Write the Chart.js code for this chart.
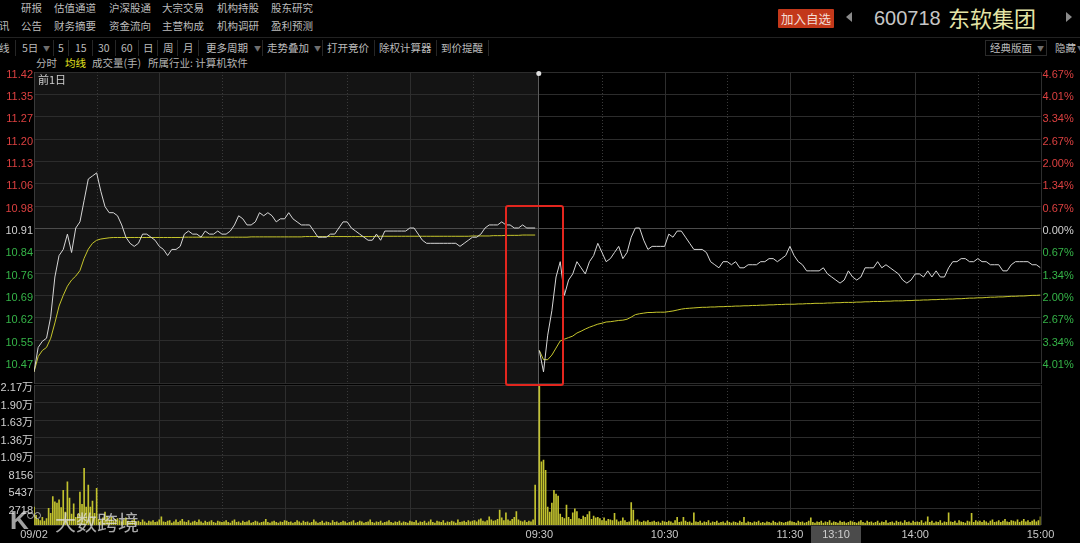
<!DOCTYPE html>
<html>
<head>
<meta charset="utf-8">
<script src="https://cdn.jsdelivr.net/npm/chart.js@4.4.1/dist/chart.umd.min.js"></script>
<style>
  body { margin: 0; background: #000; width: 1080px; height: 543px; overflow: hidden; position: relative;
         font-family: 'Noto Sans CJK SC', sans-serif; }
  .t { position: absolute; font-size: 10.5px; line-height: 14px; color: #bcbcbc; white-space: nowrap; }
  .sep { position: absolute; top: 40px; height: 16px; width: 1px; background: #262626; }
  .arr { font-size: 7px; color: #6e6e6e; }
  #pbox { position: absolute; left: 0; top: 0; width: 1080px; height: 386px; }
  #vbox { position: absolute; left: 0; top: 376px; width: 1080px; height: 167px; }
  #redbox { position: absolute; left: 505px; top: 205px; width: 59px; height: 181px; box-sizing: border-box;
            border: 2px solid #e3261e; border-radius: 3px; }
</style>
</head>
<body>

<div class="t" style="left:21px;top:1px">研报</div>
<div class="t" style="left:54px;top:1px">估值通道</div>
<div class="t" style="left:109px;top:1px">沪深股通</div>
<div class="t" style="left:162px;top:1px">大宗交易</div>
<div class="t" style="left:217px;top:1px">机构持股</div>
<div class="t" style="left:271px;top:1px">股东研究</div>
<div class="t" style="left:-1px;top:18.5px">讯</div>
<div class="t" style="left:21px;top:18.5px">公告</div>
<div class="t" style="left:54px;top:18.5px">财务摘要</div>
<div class="t" style="left:109px;top:18.5px">资金流向</div>
<div class="t" style="left:162px;top:18.5px">主营构成</div>
<div class="t" style="left:217px;top:18.5px">机构调研</div>
<div class="t" style="left:271px;top:18.5px">盈利预测</div>

<div style="position:absolute;left:0;top:37px;width:1080px;height:1px;background:#222"></div>

<div class="t" style="left:-1px;top:40.5px">线</div>
<div class="sep" style="left:15px"></div>
<div class="t" style="left:22px;top:40.5px">5日</div>
<div class="t arr" style="left:43px;top:41px">▼</div>
<div class="sep" style="left:53px"></div>
<div class="t" style="left:58px;top:40.5px">5</div>
<div class="sep" style="left:68px"></div>
<div class="t" style="left:75px;top:40.5px">15</div>
<div class="sep" style="left:92px"></div>
<div class="t" style="left:98px;top:40.5px">30</div>
<div class="sep" style="left:115px"></div>
<div class="t" style="left:121px;top:40.5px">60</div>
<div class="sep" style="left:138px"></div>
<div class="t" style="left:143px;top:40.5px">日</div>
<div class="sep" style="left:157px"></div>
<div class="t" style="left:163px;top:40.5px">周</div>
<div class="sep" style="left:177px"></div>
<div class="t" style="left:183px;top:40.5px">月</div>
<div class="sep" style="left:198px"></div>
<div class="t" style="left:206px;top:40.5px">更多周期</div>
<div class="t arr" style="left:254px;top:41px">▼</div>
<div class="sep" style="left:262px"></div>
<div class="t" style="left:267px;top:40.5px">走势叠加</div>
<div class="t arr" style="left:314px;top:41px">▼</div>
<div class="sep" style="left:322px"></div>
<div class="t" style="left:327px;top:40.5px">打开竞价</div>
<div class="sep" style="left:374px"></div>
<div class="t" style="left:379px;top:40.5px">除权计算器</div>
<div class="sep" style="left:436px"></div>
<div class="t" style="left:441px;top:40.5px">到价提醒</div>
<div class="sep" style="left:488px"></div>

<div style="position:absolute;left:985px;top:40px;width:62px;height:16px;box-sizing:border-box;border:1px solid #2a2a2a"></div>
<div class="t" style="left:990px;top:40.5px">经典版面</div>
<div class="t arr" style="left:1037px;top:41px">▼</div>
<div class="t" style="left:1055px;top:40.5px">隐藏</div>
<div class="t arr" style="left:1077px;top:41px">▼</div>

<div class="t" style="left:36px;top:56px;color:#b4b4b4">分时</div>
<div class="t" style="left:65px;top:56px;color:#e2e21e">均线</div>
<div class="t" style="left:92px;top:56px;color:#b4b4b4">成交量(手)</div>
<div class="t" style="left:148px;top:56px;color:#b4b4b4">所属行业: 计算机软件</div>

<div style="position:absolute;left:778px;top:8.5px;width:56px;height:19px;background:#c3381a;border-radius:1px;
            color:#f3ddd6;font-size:12.5px;line-height:19px;text-align:center">加入自选</div>
<div style="position:absolute;left:846px;top:12px;width:0;height:0;border-top:5px solid transparent;
            border-bottom:5px solid transparent;border-right:6px solid #8a8a8a"></div>
<div style="position:absolute;left:874px;top:5px;font-size:20px;line-height:26px;color:#c6c6c6;font-family:'Liberation Sans',sans-serif">600718</div>
<div style="position:absolute;left:948px;top:3px;font-size:22px;line-height:28px;color:#e4e4a6">东软集团</div>
<div style="position:absolute;left:1066px;top:12px;width:0;height:0;border-top:5px solid transparent;
            border-bottom:5px solid transparent;border-left:6px solid #8a8a8a"></div>

<div id="pbox"><canvas id="price"></canvas></div>
<div id="vbox"><canvas id="vol"></canvas></div>

<div class="t" style="left:38px;top:72px;font-size:11px;color:#cfcfcf">前1日</div>
<div id="redbox"></div>

<div style="position:absolute;left:10px;top:506px;font-size:26px;line-height:28px;color:rgba(225,225,225,0.72);font-family:'Liberation Sans',sans-serif;font-weight:bold">K</div>
<div style="position:absolute;left:27px;top:512px;width:5px;height:5px;border:1.5px solid rgba(225,225,225,0.72);border-radius:50%"></div>
<div style="position:absolute;left:34px;top:512px;width:5px;height:5px;border:1.5px solid rgba(225,225,225,0.72);border-radius:50%"></div>
<div style="position:absolute;left:55px;top:507px;font-size:21px;line-height:28px;color:rgba(225,225,225,0.75)">大数跨境</div>

<script>
Chart.defaults.font.family = "'Liberation Sans', 'Noto Sans CJK SC', sans-serif";
Chart.defaults.font.size = 11;

const preClose = 10.91;
const pctSteps = [-4.01, -3.34, -2.67, -2.00, -1.34, -0.67, 0, 0.67, 1.34, 2.00, 2.67, 3.34, 4.01, 4.67];
const priceLabels = ['10.47', '10.55', '10.62', '10.69', '10.76', '10.84', '10.91', '10.98', '11.06', '11.13', '11.20', '11.27', '11.35', '11.42'];
const pctLabels = ['4.01%', '3.34%', '2.67%', '2.00%', '1.34%', '0.67%', '0.00%', '0.67%', '1.34%', '2.00%', '2.67%', '3.34%', '4.01%', '4.67%'];
const priceRange = 4.67;

const volTicks = [2718, 5437, 8156, 10874, 13593, 16311, 19030, 21748];
const volLabels = ['2718', '5437', '8156', '1.09万', '1.36万', '1.63万', '1.90万', '2.17万'];

const timeTicks = [0, 242, 302, 362, 422, 482];
const timeLabels = ['09/02', '09:30', '10:30', '11:30', '14:00', '15:00'];
const cursorTime = 372;
const cursorLabel = '13:10';

// price every 2 minutes, 09:30 -> 15:00
const prevPrice = [
  10.44, 10.52, 10.54, 10.55, 10.62, 10.75, 10.82, 10.84, 10.89, 10.83,
  10.91, 10.93, 11.00, 11.07, 11.08, 11.09, 11.03, 10.98, 10.96, 10.96,
  10.95, 10.92, 10.88, 10.86, 10.85, 10.86, 10.89, 10.89, 10.88, 10.87,
  10.85, 10.84, 10.82, 10.84, 10.84, 10.85, 10.89, 10.90, 10.89, 10.89,
  10.88, 10.90, 10.89, 10.89, 10.90, 10.89, 10.89, 10.90, 10.92, 10.95,
  10.94, 10.92, 10.92, 10.93, 10.96, 10.95, 10.96, 10.95, 10.93, 10.94,
  10.94, 10.96, 10.94, 10.93, 10.92, 10.92, 10.92, 10.90, 10.88, 10.88,
  10.88, 10.89, 10.89, 10.91, 10.93, 10.93, 10.91, 10.90, 10.89, 10.88,
  10.87, 10.87, 10.89, 10.87, 10.90, 10.90, 10.90, 10.90, 10.90, 10.90,
  10.91, 10.91, 10.89, 10.87, 10.86, 10.86, 10.86, 10.86, 10.86, 10.86,
  10.86, 10.86, 10.85, 10.86, 10.87, 10.88, 10.88, 10.89, 10.91, 10.92,
  10.92, 10.92, 10.93, 10.92, 10.92, 10.91, 10.91, 10.92, 10.91, 10.91,
  10.91
];
const prevAvg = [
  10.44, 10.49, 10.51, 10.52, 10.55, 10.60, 10.655, 10.69, 10.72, 10.74,
  10.753, 10.771, 10.811, 10.841, 10.860, 10.870, 10.874, 10.876, 10.878, 10.879,
  10.879, 10.879, 10.879, 10.879, 10.879, 10.879, 10.879, 10.879, 10.879, 10.879,
  10.879, 10.879, 10.879, 10.879, 10.879, 10.879, 10.880, 10.880, 10.880, 10.880,
  10.880, 10.880, 10.880, 10.880, 10.880, 10.880, 10.880, 10.880, 10.880, 10.880,
  10.880, 10.880, 10.881, 10.881, 10.881, 10.881, 10.881, 10.881, 10.881, 10.881,
  10.881, 10.881, 10.881, 10.881, 10.881, 10.882, 10.882, 10.882, 10.882, 10.882,
  10.882, 10.882, 10.882, 10.882, 10.882, 10.882, 10.882, 10.882, 10.882, 10.882,
  10.882, 10.882, 10.883, 10.883, 10.883, 10.883, 10.883, 10.883, 10.883, 10.883,
  10.883, 10.883, 10.883, 10.883, 10.883, 10.883, 10.883, 10.883, 10.883, 10.883,
  10.883, 10.883, 10.883, 10.883, 10.883, 10.884, 10.884, 10.884, 10.884, 10.884,
  10.885, 10.885, 10.885, 10.886, 10.886, 10.886, 10.886, 10.887, 10.887, 10.887,
  10.887
];
const curPrice = [
  10.51, 10.44, 10.56, 10.64, 10.75, 10.80, 10.69, 10.74, 10.76, 10.80,
  10.78, 10.76, 10.80, 10.82, 10.86, 10.83, 10.80, 10.81, 10.83, 10.85,
  10.81, 10.83, 10.88, 10.91, 10.91, 10.87, 10.84, 10.85, 10.85, 10.85,
  10.85, 10.89, 10.88, 10.90, 10.90, 10.88, 10.86, 10.84, 10.84, 10.84,
  10.83, 10.80, 10.79, 10.78, 10.80, 10.80, 10.79, 10.80, 10.78, 10.78,
  10.79, 10.79, 10.79, 10.80, 10.80, 10.81, 10.81, 10.80, 10.81, 10.82,
  10.85, 10.82, 10.80, 10.79, 10.77, 10.77, 10.77, 10.77, 10.78, 10.76,
  10.75, 10.74, 10.73, 10.74, 10.77, 10.75, 10.74, 10.75, 10.78, 10.78,
  10.78, 10.80, 10.78, 10.79, 10.78, 10.77, 10.76, 10.74, 10.73, 10.74,
  10.76, 10.76, 10.75, 10.77, 10.75, 10.77, 10.75, 10.75, 10.78, 10.80,
  10.80, 10.81, 10.81, 10.80, 10.80, 10.81, 10.80, 10.80, 10.79, 10.79,
  10.79, 10.77, 10.77, 10.79, 10.80, 10.80, 10.80, 10.80, 10.79, 10.79,
  10.78
];
const curAvg = [
  10.51, 10.48, 10.48, 10.495, 10.518, 10.541, 10.547, 10.552, 10.557, 10.567,
  10.573, 10.580, 10.586, 10.591, 10.596, 10.599, 10.603, 10.604, 10.606, 10.608,
  10.609, 10.612, 10.619, 10.627, 10.630, 10.632, 10.634, 10.634, 10.635, 10.635,
  10.635, 10.637, 10.639, 10.642, 10.645, 10.647, 10.648, 10.649, 10.650, 10.651,
  10.651, 10.652, 10.652, 10.653, 10.653, 10.654, 10.654, 10.655, 10.655, 10.656,
  10.656, 10.657, 10.657, 10.658, 10.658, 10.659, 10.659, 10.660, 10.660, 10.661,
  10.661, 10.661, 10.662, 10.662, 10.663, 10.663, 10.664, 10.664, 10.664, 10.665,
  10.665, 10.666, 10.666, 10.667, 10.667, 10.667, 10.668, 10.668, 10.669, 10.669,
  10.670, 10.670, 10.670, 10.671, 10.671, 10.672, 10.672, 10.672, 10.673, 10.673,
  10.674, 10.674, 10.675, 10.675, 10.676, 10.676, 10.677, 10.677, 10.678, 10.678,
  10.679, 10.679, 10.680, 10.681, 10.681, 10.682, 10.682, 10.683, 10.684, 10.684,
  10.685, 10.685, 10.686, 10.687, 10.687, 10.688, 10.688, 10.689, 10.690, 10.690,
  10.691
];

// volume (手) per minute
const prevVol = [
  2800, 1500, 900, 700, 1200, 600, 1000, 2600, 1800, 4400, 3600, 3400, 3900, 2700, 5400, 2000,
  6700, 4200, 1700, 3300, 1200, 1700, 5100, 3200, 8800, 2800, 6200, 2800, 3700, 1800, 5700,
  900, 700, 1100, 2000, 1300, 800, 1200, 600, 900, 1000, 700, 500, 800, 1100, 600,
  400, 700, 900, 500, 600, 400, 800, 500, 300, 600, 500, 700, 400, 500, 800,
  1250, 500, 400, 600, 700, 300, 500, 800, 400, 600, 900, 500, 400, 700, 300,
  500, 600, 400, 800, 500, 300, 600, 400, 500, 700, 400, 300, 600, 500, 400,
  500, 700, 400, 300, 600, 800, 400, 500, 300, 600, 400, 500, 700, 300, 400,
  600, 500, 300, 400, 500, 900, 400, 300, 500, 600, 400, 300, 500, 400, 700,
  600, 400, 500, 300, 400, 700, 500, 300, 600, 400, 500, 300, 400, 800, 500,
  300, 400, 600, 300, 500, 400, 300, 700, 400, 500, 300, 400, 600, 500, 300,
  400, 500, 700, 300, 400, 600, 500, 300, 400, 500, 800, 400, 300, 500, 400,
  600, 300, 400, 500, 700, 400, 300, 500, 400, 600, 300, 500, 400, 300, 600,
  500, 400, 700, 300, 500, 400, 600, 300, 500, 800, 400, 300, 600, 500, 400,
  700, 300, 500, 400, 600, 500, 300, 800, 400, 500, 600, 400, 700, 500, 600,
  700, 500, 800, 950, 600, 500, 700, 1250, 800, 600, 700, 900, 2300, 1100, 700,
  1900, 800, 600, 900, 1200, 2100, 800, 600, 500, 700, 400, 600, 500, 800, 6200
];
const curVol = [
  21600, 9800, 10100, 8500, 2800, 2000, 3400, 5400, 4800, 4500, 1700, 1200, 1000, 3100, 1200, 900,
  1900, 2500, 2100, 1000, 900, 1400, 1200, 1600, 2100, 900, 1400, 1100, 1200, 1000, 700,
  1100, 600, 900, 800, 700, 1800, 800, 500, 600, 1100, 700, 400, 500, 3500, 2300,
  600, 800, 500, 400, 600, 500, 700, 400, 500, 600, 400, 500, 300, 600, 500,
  400, 600, 500, 300, 700, 1200, 400, 500, 1200, 600, 400, 500, 300, 1900, 500,
  400, 600, 300, 500, 400, 700, 300, 500, 400, 600, 300, 400, 500, 300, 600,
  400, 300, 500, 400, 300, 600, 400, 1200, 300, 500, 400, 300, 500, 400, 600,
  300, 400, 300, 500, 400, 300, 600, 400, 300, 500, 400, 300, 400, 500, 600,
  500, 400, 300, 600, 400, 500, 300, 400, 600, 1100, 400, 300, 500, 400, 600,
  300, 500, 400, 700, 300, 500, 400, 300, 600, 400, 500, 300, 400, 600, 500,
  400, 300, 500, 700, 400, 300, 600, 400, 500, 300, 400, 600, 300, 500, 400,
  700, 300, 400, 500, 300, 600, 400, 500, 300, 700, 400, 500, 300, 600, 400,
  500, 400, 700, 300, 500, 1250, 400, 600, 300, 500, 400, 700, 300, 500, 400,
  1900, 500, 400, 600, 300, 700, 500, 400, 300, 600, 500, 1800, 400, 700, 500,
  600, 400, 700, 500, 300, 600, 800, 400, 500, 700, 400, 600, 900, 500, 400,
  700, 600, 500, 800, 400, 600, 900, 500, 700, 400, 600, 800, 500, 700, 1250
];

const DAY2 = 242;          // x offset of the 09/03 session
const RED = '#dc4040', GREEN = '#35b448', WHITE = '#d2d2d2';
const priceTickVals = pctSteps.map(p => preClose * (1 + p / 100));

function pts(arr, off, step) {
  return arr.map((v, i) => ({ x: off + i * step, y: v }));
}

// fixed axis size, and no extra room for labels that overhang the plot
function fixBox(w, h) {
  return s => {
    if (w != null) s.width = w;
    if (h != null) s.height = h;
    s.paddingTop = s.paddingBottom = s.paddingLeft = s.paddingRight = 0;
  };
}

function hline(ctx, a, y, color) {
  const yy = Math.round(y) + 0.5;
  ctx.strokeStyle = color;
  ctx.beginPath(); ctx.moveTo(a.left, yy); ctx.lineTo(a.right, yy); ctx.stroke();
}

function vgrid(chart) {
  const { ctx, chartArea: a, scales: { x } } = chart;
  ctx.save();
  ctx.lineWidth = 1;
  [0, DAY2].forEach(off => {
    for (let m = 30; m < 240; m += 30) {
      const px = Math.round(x.getPixelForValue(off + m)) + 0.5;
      const hour = m % 60 === 0;
      ctx.setLineDash(hour ? [] : [1, 2]);
      ctx.strokeStyle = hour ? '#2e2e2e' : '#3a3a3a';
      ctx.beginPath(); ctx.moveTo(px, a.top); ctx.lineTo(px, a.bottom); ctx.stroke();
    }
  });
  ctx.setLineDash([]);
  [[a.left, '#3a3a3a'], [Math.round(x.getPixelForValue(241.5)), '#5c5c5c'], [a.right, '#2e2e2e']].forEach(([px, c]) => {
    ctx.strokeStyle = c;
    ctx.beginPath(); ctx.moveTo(Math.round(px) + 0.5, a.top); ctx.lineTo(Math.round(px) + 0.5, a.bottom); ctx.stroke();
  });
  ctx.restore();
}

function fillBg(chart) {
  const { ctx, chartArea: a, scales: { x } } = chart;
  const xd = x.getPixelForValue(241.5);
  ctx.fillStyle = '#141414';
  ctx.fillRect(a.left, a.top, xd - a.left, a.bottom - a.top);
  ctx.fillStyle = '#000';
  ctx.fillRect(xd, a.top, a.right - xd, a.bottom - a.top);
}

const priceFrame = {
  id: 'priceFrame',
  beforeDraw(chart) {
    const { ctx, chartArea: a, scales: { y } } = chart;
    ctx.save();
    fillBg(chart);
    ctx.lineWidth = 1;
    pctSteps.forEach((p, i) => hline(ctx, a, y.getPixelForValue(priceTickVals[i]), p === 0 ? '#4c4c4c' : '#2c2c2c'));
    hline(ctx, a, a.bottom - 1, '#2c2c2c');
    ctx.restore();
    vgrid(chart);
  },
  afterDraw(chart) {
    const { ctx, chartArea: a, scales: { x } } = chart;
    ctx.save();
    ctx.fillStyle = '#e0e0e0';
    ctx.beginPath(); ctx.arc(x.getPixelForValue(241.5) + 0.5, a.top + 1.5, 2.5, 0, Math.PI * 2); ctx.fill();
    ctx.restore();
  }
};

const volFrame = {
  id: 'volFrame',
  beforeDraw(chart) {
    const { ctx, chartArea: a, scales: { y } } = chart;
    ctx.save();
    fillBg(chart);
    ctx.lineWidth = 1;
    volTicks.forEach(v => hline(ctx, a, y.getPixelForValue(v), '#2c2c2c'));
    hline(ctx, a, a.bottom, '#2c2c2c');
    ctx.restore();
    vgrid(chart);
  },
  afterDraw(chart) {
    const { ctx, chartArea: a, scales: { x } } = chart;
    const x0 = Math.round(x.getPixelForValue(cursorTime));
    ctx.save();
    ctx.fillStyle = '#4b4b4b';
    ctx.fillRect(x0, a.bottom + 1, 50, chart.height - a.bottom - 1);
    ctx.fillStyle = '#cfcfcf';
    ctx.font = "11px 'Liberation Sans', sans-serif";
    ctx.textAlign = 'center'; ctx.textBaseline = 'middle';
    ctx.fillText(cursorLabel, x0 + 25, a.bottom + 9.5);
    ctx.restore();
  }
};

const lineDs = (data, color) => ({
  data, borderColor: color, borderWidth: 1, pointRadius: 0, tension: 0, fill: false
});

new Chart(document.getElementById('price'), {
  type: 'line',
  data: {
    datasets: [
      lineDs(pts(prevPrice, 0, 2), '#d6d6d6'),
      lineDs(pts(curPrice, DAY2, 2), '#d6d6d6'),
      lineDs(pts(prevAvg, 0, 2), '#c6c62c'),
      lineDs(pts(curAvg, DAY2, 2), '#c6c62c'),
    ]
  },
  options: {
    animation: false,
    responsive: true,
    maintainAspectRatio: false,
    layout: { autoPadding: false, padding: { top: 72, bottom: 2, left: 0, right: 0 } },
    plugins: { legend: { display: false }, tooltip: { enabled: false } },
    scales: {
      x: { type: 'linear', min: 0, max: 482, display: false },
      y: {
        position: 'left',
        min: preClose * (1 - priceRange / 100),
        max: preClose * (1 + priceRange / 100),
        afterFit: fixBox(34, null),
        afterBuildTicks: s => { s.ticks = priceTickVals.map(v => ({ value: v })); },
        grid: { display: false, drawTicks: false },
        border: { display: false },
        ticks: {
          autoSkip: false, padding: 1, labelOffset: 3,
          color: c => pctSteps[c.index] > 0 ? RED : pctSteps[c.index] < 0 ? GREEN : WHITE,
          callback: v => priceLabels[priceTickVals.indexOf(v)]
        }
      },
      yr: {
        position: 'right',
        min: preClose * (1 - priceRange / 100),
        max: preClose * (1 + priceRange / 100),
        afterFit: fixBox(39.5, null),
        afterBuildTicks: s => { s.ticks = priceTickVals.map(v => ({ value: v })); },
        grid: { display: false, drawTicks: false },
        border: { display: false },
        ticks: {
          autoSkip: false, padding: 2, labelOffset: 3,
          color: c => pctSteps[c.index] > 0 ? RED : pctSteps[c.index] < 0 ? GREEN : WHITE,
          callback: v => pctLabels[priceTickVals.indexOf(v)]
        }
      }
    }
  },
  plugins: [priceFrame]
});

new Chart(document.getElementById('vol'), {
  type: 'bar',
  data: {
    datasets: [
      { data: pts(prevVol, 0, 1), backgroundColor: '#c2c22e', barThickness: 1, grouped: false, borderWidth: 0 },
      { data: pts(curVol, DAY2, 1), backgroundColor: '#c2c22e', barThickness: 1, grouped: false, borderWidth: 0 },
    ]
  },
  options: {
    animation: false,
    responsive: true,
    maintainAspectRatio: false,
    layout: { autoPadding: false, padding: { top: 9, bottom: 0, left: 0, right: 39.5 } },
    plugins: { legend: { display: false }, tooltip: { enabled: false } },
    scales: {
      x: {
        type: 'linear', min: 0, max: 482, offset: false,
        afterFit: fixBox(null, 18),
        afterBuildTicks: s => { s.ticks = timeTicks.map(v => ({ value: v })); },
        grid: { display: false, drawTicks: false },
        border: { display: false },
        ticks: {
          autoSkip: false, maxRotation: 0, padding: 3, color: '#c8c8c8',
          callback: v => timeLabels[timeTicks.indexOf(v)]
        }
      },
      y: {
        position: 'left', min: 0, max: 21748,
        afterFit: fixBox(34, null),
        afterBuildTicks: s => { s.ticks = volTicks.map(v => ({ value: v })); },
        grid: { display: false, drawTicks: false },
        border: { display: false },
        ticks: {
          autoSkip: false, padding: 1, labelOffset: 3, color: '#d0d0d0',
          callback: v => volLabels[volTicks.indexOf(v)]
        }
      }
    }
  },
  plugins: [volFrame]
});
</script>
</body>
</html>
